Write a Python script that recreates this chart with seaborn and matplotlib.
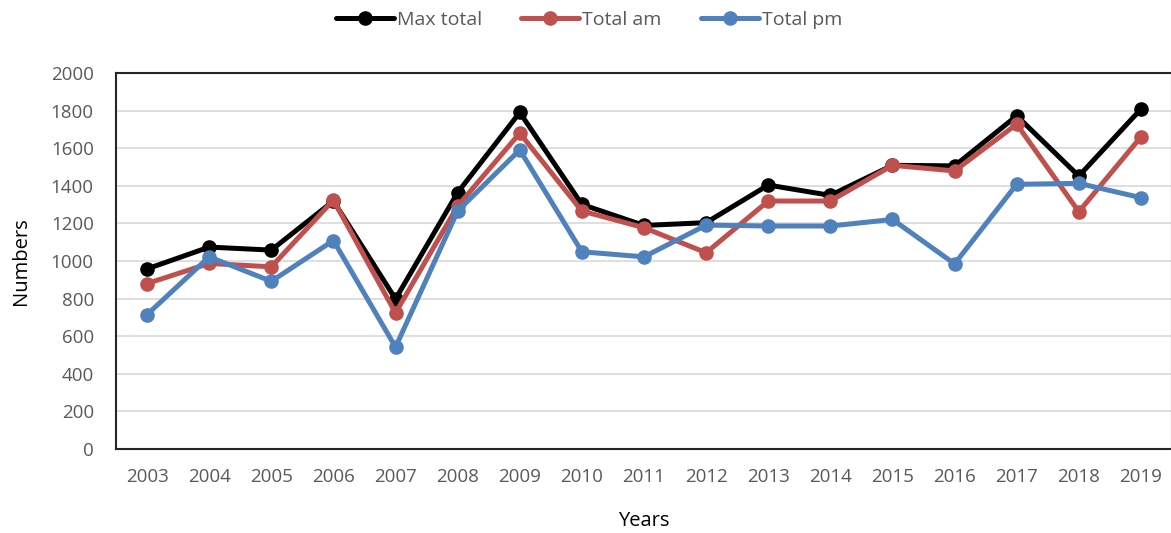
import pandas as pd
import matplotlib.pyplot as plt
import seaborn as sns

# Values
years = [str(y) for y in range(2003, 2020)]
max_total = [958, 1074, 1058, 1319, 798, 1364, 1790, 1301, 1189, 1204, 1404, 1349, 1509, 1506, 1772, 1452, 1808]
total_am = [880, 987, 969, 1324, 724, 1292, 1680, 1266, 1177, 1044, 1319, 1319, 1509, 1479, 1728, 1262, 1660]
total_pm = [715, 1022, 892, 1109, 542, 1266, 1591, 1049, 1022, 1191, 1186, 1186, 1221, 985, 1408, 1413, 1337]

series = ['Max total', 'Total am', 'Total pm']
colors = ['#000000', '#C0504D', '#4F81BD']

df = pd.DataFrame({'Years': years, 'Max total': max_total,
                   'Total am': total_am, 'Total pm': total_pm})
long = df.melt(id_vars='Years', var_name='Series', value_name='Numbers')

sns.set_style("white")
plt.rcParams['font.family'] = ['Open Sans', 'DejaVu Sans']

fig = plt.figure(figsize=(11.71, 5.33), dpi=100)
ax = fig.add_axes([116 / 1171, 1 - 449 / 533, 1056 / 1171, 376 / 533])

sns.lineplot(data=long, x='Years', y='Numbers', hue='Series', hue_order=series,
             palette=colors, marker='o', markersize=10.5, markeredgewidth=0,
             linewidth=3.6, ax=ax, sort=False)

ax.set_ylim(0, 2000)
ax.set_yticks(range(0, 2001, 200))
ax.set_xlim(-0.5, len(years) - 0.5)
ax.yaxis.grid(True, color='#D9D9D9', linewidth=1.2)
ax.set_axisbelow(True)
for s in ax.spines.values():
    s.set_color('#262626')
    s.set_linewidth(1.5)
ax.tick_params(axis='both', colors='#595959', labelsize=13.5, length=0)
ax.tick_params(axis='y', pad=16)
ax.tick_params(axis='x', pad=14)
ax.set_xlabel('Years', fontsize=14.5, color='#000000', labelpad=18)
ax.set_ylabel('Numbers', fontsize=14.5, color='#000000', labelpad=14)

leg = ax.legend(loc='center', bbox_to_anchor=(0.448, 1.141), ncol=3, frameon=False,
                fontsize=14, handlelength=3.0, columnspacing=2.0, handletextpad=0.15,
                markerscale=1.0)
for t in leg.get_texts():
    t.set_color('#595959')

fig.savefig('out.png', dpi=100)
